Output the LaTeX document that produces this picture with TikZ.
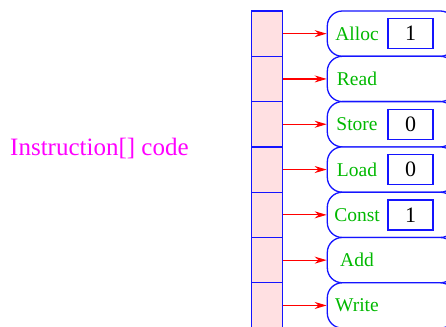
\documentclass[tikz,border=0pt]{standalone}
\usepackage{fontspec}
\setmainfont{Liberation Serif}
\usetikzlibrary{arrows.meta,positioning}
\definecolor{cellpink}{RGB}{255,224,226}
\definecolor{opgreen}{RGB}{0,185,0}
\definecolor{boxblue}{RGB}{20,20,255}
\definecolor{namemagenta}{RGB}{255,0,255}
\tikzset{
  cell/.style={draw=boxblue,line width=1.3pt,fill=cellpink,minimum width=30.6pt,minimum height=45.3pt,inner sep=0pt},
  instr/.style={draw=boxblue,line width=1.3pt,fill=white,rounded corners=15pt,minimum width=128pt,minimum height=45.3pt,inner sep=0pt},
  oplbl/.style={text=opgreen,font=\fontsize{19.5}{22}\selectfont,inner sep=0pt},
  argbox/.style={draw=boxblue,line width=1.3pt,fill=white,minimum width=45pt,minimum height=30pt,inner sep=0pt,font=\fontsize{22}{26}\selectfont},
  ptr/.style={draw=red,line width=1.2pt,-{Stealth[length=12pt,width=7pt]}}
}
\begin{document}
\begin{tikzpicture}[x=1pt,y=-1pt]
\useasboundingbox (0,0) rectangle (446,326);
\clip (0,0) rectangle (446,326);
% array of code cells
\node[cell] (c1) at (267,33.65) {};
\node[cell] (c2) at (267,78.95) {};
\node[cell] (c3) at (267,124.25) {};
\node[cell] (c4) at (267,169.55) {};
\node[cell] (c5) at (267,214.85) {};
\node[cell] (c6) at (267,260.15) {};
\node[cell] (c7) at (267,305.45) {};
% instruction objects
\node[instr] (i1) at (391.3,33.65) {};
\node[instr] (i2) at (391.3,78.95) {};
\node[instr] (i3) at (391.3,124.25) {};
\node[instr] (i4) at (391.3,169.55) {};
\node[instr] (i5) at (391.3,214.85) {};
\node[instr] (i6) at (391.3,260.15) {};
\node[instr] (i7) at (391.3,305.45) {};
\node[oplbl] (l1) at (357,33.65) {Alloc};
\node[oplbl] (l2) at (357,78.95) {Read};
\node[oplbl] (l3) at (357,124.25) {Store};
\node[oplbl] (l4) at (357,169.55) {Load};
\node[oplbl] (l5) at (357,214.85) {Const};
\node[oplbl] (l6) at (357,260.15) {Add};
\node[oplbl] (l7) at (357,305.45) {Write};
\node[argbox] (a1) at (410.5,33.65) {1};
\node[argbox] (a3) at (410.5,124.25) {0};
\node[argbox] (a4) at (410.5,169.55) {0};
\node[argbox] (a5) at (410.5,214.85) {1};
% pointers
\draw[ptr] (c1) -- (i1); \draw[ptr] (c2) -- (i2); \draw[ptr] (c3) -- (i3);
\draw[ptr] (c4) -- (i4); \draw[ptr] (c5) -- (i5); \draw[ptr] (c6) -- (i6);
\draw[ptr] (c7) -- (i7);
\node[text=namemagenta,font=\fontsize{25}{30}\selectfont,anchor=west,inner sep=0pt] (name) at (10,148) {Instruction[] code};
\end{tikzpicture}
\end{document}
